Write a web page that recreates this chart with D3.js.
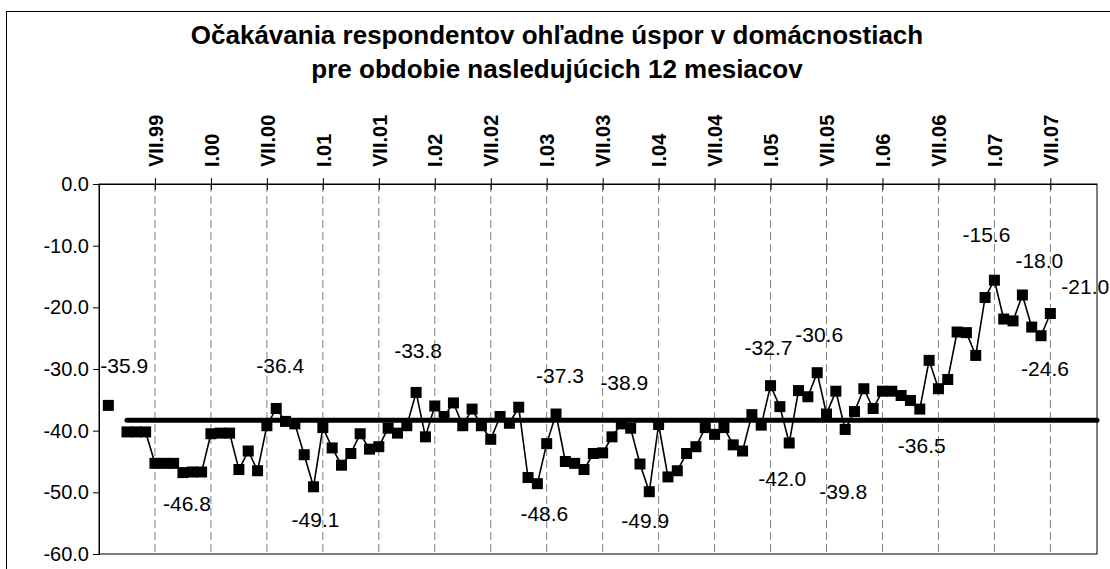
<!DOCTYPE html>
<html>
<head>
<meta charset="utf-8">
<script src="https://cdn.jsdelivr.net/npm/d3@7"></script>
<style>
  body { margin: 0; background: #fff; }
  text { font-family: "Liberation Sans", Arial, sans-serif; }
</style>
</head>
<body>
<div id="chart"></div>
<script>
// mesiace a roky pre kategóriovú os
const months = ['I', 'II', 'III', 'IV', 'V', 'VI', 'VII', 'VIII', 'IX', 'X', 'XI', 'XII'];
const years = ['99', '00', '01', '02', '03', '04', '05', '06', '07'];

// hodnoty od II.99 po VII.07 (III.99 chýba)
const values = [
  -35.9, null, -40.2, -40.2, -40.2, -45.3, -45.3, -45.3, -46.8, -46.7, -46.7,
  -40.5, -40.4, -40.4, -46.3, -43.3, -46.5, -39.2, -36.4, -38.5, -38.9, -43.9, -49.1,
  -39.5, -42.8, -45.6, -43.7, -40.5, -43.0, -42.6, -39.6, -40.4, -39.2, -33.8, -41.0,
  -36.0, -37.7, -35.5, -39.2, -36.5, -39.2, -41.4, -37.7, -38.8, -36.2, -47.6, -48.6,
  -42.1, -37.3, -45.0, -45.3, -46.3, -43.7, -43.6, -41.0, -38.9, -39.6, -45.4, -49.9,
  -39.0, -47.5, -46.5, -43.7, -42.6, -39.5, -40.6, -39.5, -42.3, -43.3, -37.4, -39.1,
  -32.7, -36.1, -42.0, -33.5, -34.5, -30.6, -37.3, -33.6, -39.8, -36.9, -33.2, -36.4,
  -33.6, -33.6, -34.3, -35.1, -36.5, -28.6, -33.2, -31.7, -24.0, -24.1, -27.8, -18.4,
  -15.6, -21.9, -22.2, -18.0, -23.2, -24.6, -21.0
];
const firstMonth = 'II.99';

// priemer (hrubá čiara) od IV.99 do konca osi
const avgValue = -38.3;
const avgRange = ['IV.99', 'XII.07'];

// popisky vybraných bodov
const labelCats = ['II.99', 'X.99', 'VIII.00', 'XII.00', 'XI.01', 'XII.02', 'II.03', 'IX.03',
  'XII.03', 'I.05', 'III.05', 'VI.05', 'IX.05', 'V.06', 'I.07', 'IV.07', 'VI.07', 'VII.07'];

// popisky osi
const yTicks = [0, -10, -20, -30, -40, -50, -60];
const xTickLabels = ['VII.99', 'I.00', 'VII.00', 'I.01', 'VII.01', 'I.02', 'VII.02', 'I.03', 'VII.03',
  'I.04', 'VII.04', 'I.05', 'VII.05', 'I.06', 'VII.06', 'I.07', 'VII.07'];

const titleLines = ['Očakávania respondentov ohľadne úspor v domácnostiach',
  'pre obdobie nasledujúcich 12 mesiacov'];

const categories = years.flatMap(y => months.map(m => m + '.' + y));
const start = categories.indexOf(firstMonth);
const data = values.map((v, k) => ({ cat: categories[start + k], v }));

// formát s obyčajným spojovníkom namiesto mínusu
const fmt = d3.formatLocale({ decimal: '.', thousands: ' ', grouping: [3], currency: ['', ''], minus: '-' }).format('.1f');

// umiestnenie popiskov voči bodu
const labelPlace = {
  'II.99': { dx: -8, dy: -32, anchor: 'start' },
  'X.99': { dx: 4, dy: 38 },
  'VIII.00': { dx: 4, dy: -35 },
  'XII.00': { dx: 2, dy: 40 },
  'XI.01': { dx: 2, dy: -34 },
  'XII.02': { dx: 7, dy: 37 },
  'II.03': { dx: 4, dy: -31 },
  'IX.03': { dx: 3, dy: -34 },
  'XII.03': { dx: -4, dy: 36 },
  'I.05': { dx: -2, dy: -31 },
  'III.05': { dx: -7, dy: 43 },
  'VI.05': { dx: 2, dy: -31 },
  'IX.05': { dx: -2, dy: 70 },
  'V.06': { dx: 2, dy: 44 },
  'I.07': { dx: -8, dy: -38 },
  'IV.07': { dx: 17, dy: -27 },
  'VI.07': { dx: 4, dy: 40 },
  'VII.07': { dx: 11, dy: -20, anchor: 'start' }
};

const width = 1110;
const height = 569;
const margin = { top: 184, right: 13, bottom: 15, left: 99 };

const svg = d3.select('#chart')
  .append('svg')
  .attr('width', width)
  .attr('height', height);

// rámik grafu
svg.append('rect')
  .attr('x', 6.5).attr('y', 11.5)
  .attr('width', width).attr('height', height)
  .attr('fill', '#fff').attr('stroke', '#000').attr('stroke-width', 1);

const x = d3.scalePoint()
  .domain(categories)
  .range([margin.left, width - margin.right]);

const y = d3.scaleLinear()
  .domain([-60, 0])
  .range([height - margin.bottom, margin.top]);

// nadpis
svg.append('text')
  .attr('x', 557)
  .attr('y', 44)
  .attr('text-anchor', 'middle')
  .attr('font-size', 26)
  .attr('font-weight', 'bold')
  .selectAll('tspan')
  .data(titleLines)
  .enter()
  .append('tspan')
  .attr('x', 557)
  .attr('dy', (d, i) => i ? 34 : 0)
  .text(d => d);

// zvislá mriežka (čiarkovaná)
svg.append('g')
  .selectAll('line')
  .data(xTickLabels)
  .enter()
  .append('line')
  .attr('x1', d => x(d)).attr('x2', d => x(d))
  .attr('y1', y(0)).attr('y2', y(-60))
  .attr('stroke', '#808080')
  .attr('stroke-dasharray', '8,4');

// ohraničenie plochy grafu
svg.append('rect')
  .attr('x', x.range()[0]).attr('y', y(0))
  .attr('width', x.range()[1] - x.range()[0])
  .attr('height', y(-60) - y(0))
  .attr('fill', 'none').attr('stroke', '#000');

// os Y
svg.append('g')
  .attr('transform', `translate(${margin.left}, 0)`)
  .call(d3.axisLeft(y).tickValues(yTicks).tickSize(6).tickPadding(4).tickFormat(fmt))
  .call(g => g.selectAll('text').attr('font-size', 20).attr('fill', '#000')
    .attr('font-family', '"Liberation Sans", Arial, sans-serif'))
  .call(g => g.selectAll('line, path').attr('stroke', '#000'));

// os X hore (na nule)
const xAxis = svg.append('g')
  .attr('transform', `translate(0, ${y(0)})`)
  .call(d3.axisTop(x).tickValues(xTickLabels).tickSize(6).tickSizeOuter(0));
xAxis.select('.domain').attr('stroke', '#000').attr('d', `M${margin.left - 6},0.5H${width - margin.right}`);
xAxis.selectAll('.tick line').attr('y1', 6).attr('y2', -6).attr('stroke', '#000');
xAxis.selectAll('.tick text')
  .attr('font-size', 20)
  .attr('font-weight', 'bold')
  .attr('font-family', '"Liberation Sans", Arial, sans-serif')
  .attr('fill', '#000')
  .attr('text-anchor', 'start')
  .attr('transform', 'rotate(-90)')
  .attr('x', 17)
  .attr('y', 0)
  .attr('dy', '0.36em');

// priemer
svg.append('line')
  .attr('x1', x(avgRange[0])).attr('x2', x(avgRange[1]))
  .attr('y1', y(avgValue)).attr('y2', y(avgValue))
  .attr('stroke', '#000')
  .attr('stroke-width', 5)
  .attr('stroke-linecap', 'round');

// séria
const line = d3.line()
  .defined(d => d.v !== null)
  .x(d => x(d.cat))
  .y(d => y(d.v));

svg.append('path')
  .datum(data)
  .attr('fill', 'none')
  .attr('stroke', '#000')
  .attr('stroke-width', 1.6)
  .attr('d', line);

const ms = 11;
svg.append('g')
  .selectAll('rect')
  .data(data.filter(d => d.v !== null))
  .enter()
  .append('rect')
  .attr('x', d => x(d.cat) - ms / 2)
  .attr('y', d => y(d.v) - ms / 2)
  .attr('width', ms)
  .attr('height', ms)
  .attr('fill', '#000');

// popisky hodnôt
svg.append('g')
  .selectAll('text')
  .data(data.filter(d => labelCats.includes(d.cat)))
  .enter()
  .append('text')
  .attr('x', d => x(d.cat) + labelPlace[d.cat].dx)
  .attr('y', d => y(d.v) + labelPlace[d.cat].dy)
  .attr('text-anchor', d => labelPlace[d.cat].anchor || 'middle')
  .attr('font-size', 21)
  .attr('fill', '#000')
  .text(d => fmt(d.v));
</script>
</body>
</html>
